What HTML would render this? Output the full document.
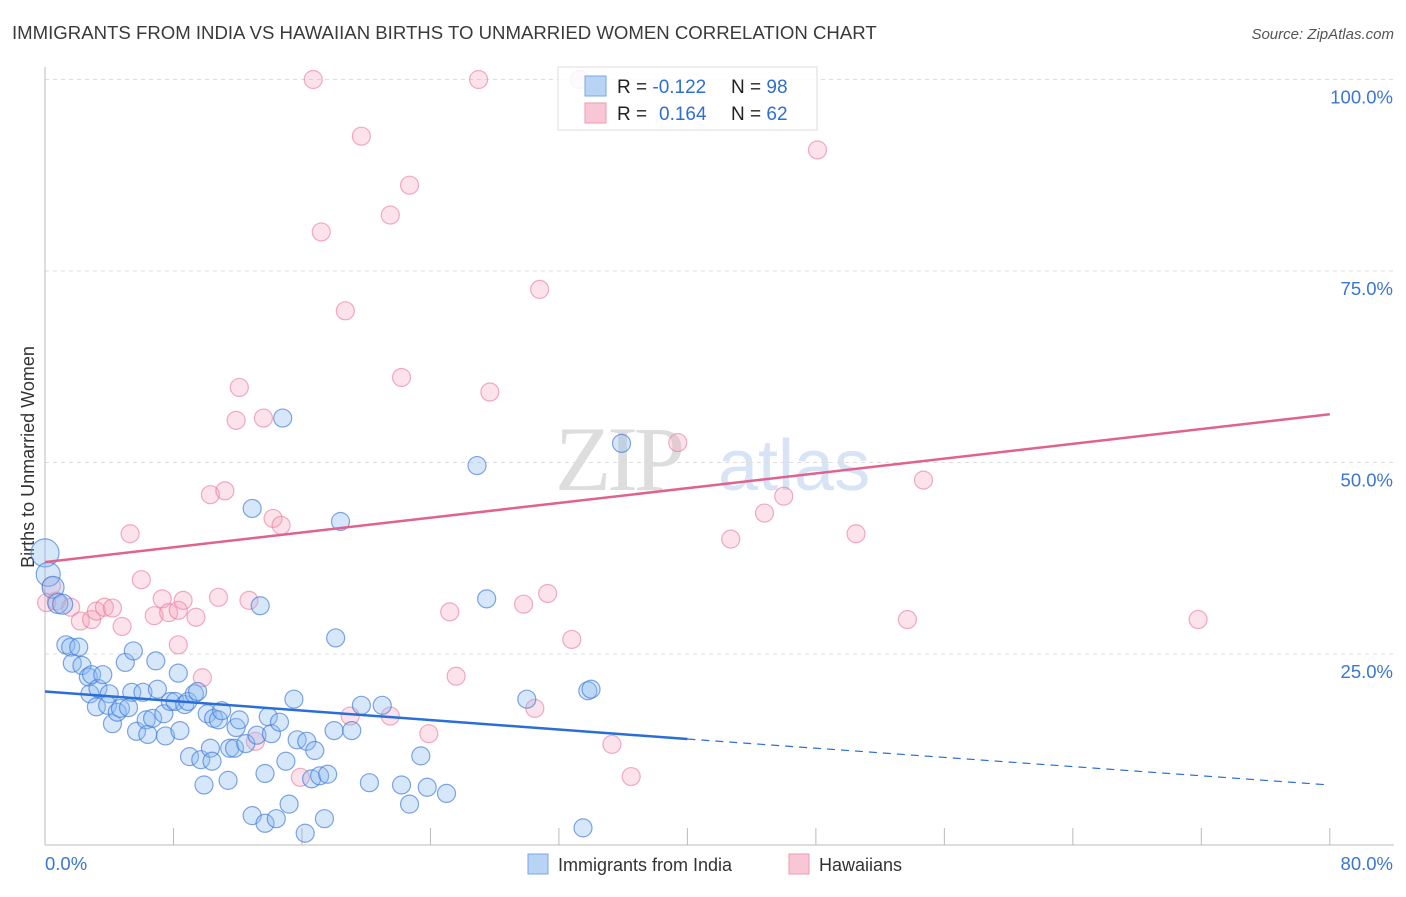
<!DOCTYPE html>
<html><head><meta charset="utf-8">
<style>
body{margin:0;background:#fff;font-family:"Liberation Sans",sans-serif;}
#wrap{position:relative;width:1406px;height:892px;}
</style></head>
<body>
<div id="wrap">
<svg id="svg" width="1406" height="892" xmlns="http://www.w3.org/2000/svg">
<text x="12" y="39" font-size="18.6" fill="#3a3a3a">IMMIGRANTS FROM INDIA VS HAWAIIAN BIRTHS TO UNMARRIED WOMEN CORRELATION CHART</text>
<text x="1394" y="39" font-size="15" fill="#555" text-anchor="end" font-style="italic">Source: ZipAtlas.com</text>
<text x="34" y="457" font-size="18" fill="#333" text-anchor="middle" transform="rotate(-90 34 457)">Births to Unmarried Women</text>
<g><text x="555" y="490" font-size="92" fill="#ddd" font-family="Liberation Serif,serif" letter-spacing="-4">ZIP</text><text x="718" y="490" font-size="72" fill="#d6e4f5">atlas</text></g>
<g id="grid"></g><g id="axes"></g><g id="pts"></g><g id="lines"></g>
<g>
<rect x="558" y="67" width="259" height="63" fill="#fff" fill-opacity="0.85" stroke="#ddd"/>
<rect x="585" y="76" width="21" height="20" fill="#b9d3f5" stroke="#7aa6e6"/>
<rect x="585" y="103" width="21" height="20" fill="#f9c6d5" stroke="#ee9ab3"/>
<text x="617" y="93" font-size="19" fill="#222">R = <tspan fill="#2f6fd0">-0.122</tspan><tspan x="731">N = </tspan><tspan fill="#2f6fd0">98</tspan></text>
<text x="617" y="120" font-size="19" fill="#222">R = <tspan x="659" fill="#2f6fd0">0.164</tspan><tspan x="731">N = </tspan><tspan fill="#2f6fd0">62</tspan></text>
</g>
<g>
<rect x="528" y="854" width="20" height="20" fill="#b9d3f5" stroke="#7aa6e6"/>
<text x="558" y="871" font-size="18" fill="#333">Immigrants from India</text>
<rect x="789" y="854" width="20" height="20" fill="#f9c6d5" stroke="#ee9ab3"/>
<text x="819" y="871" font-size="18" fill="#333">Hawaiians</text>
</g>
</svg>
</div>
<script>
const xTicks=[0,80];
const yTicks=[25,50,75,100];
const blueX=[0,0.2,0.5,0.8,1.1,1.3,1.6,2.1,1.7,2.3,2.7,2.9,2.8,3.3,3.2,3.6,4.0,4.2,3.9,4.5,4.7,5.0,5.2,5.5,5.4,5.7,6.1,6.3,6.4,6.7,6.9,7.0,7.4,7.5,7.8,8.1,8.3,8.4,8.7,8.9,9.0,9.3,9.5,9.7,9.9,10.1,10.3,10.4,10.5,10.8,11.0,11.4,11.5,11.8,11.9,12.1,12.5,12.9,12.9,13.2,13.4,13.7,13.7,13.9,14.1,14.4,14.6,15.0,15.2,15.5,15.7,16.2,16.3,16.6,16.8,17.1,17.4,17.6,18.0,18.1,18.4,19.1,19.7,20.2,21.0,22.2,22.7,23.4,23.8,25.0,26.9,27.5,30.0,33.5,33.8,34.0,35.9,14.8];
const blueY=[38.2,35.4,33.7,31.6,31.5,26.2,25.9,25.9,23.8,23.5,22.0,22.3,19.8,20.5,18.1,22.3,19.8,15.9,18.3,17.4,17.9,23.9,18.0,25.4,20.0,14.9,20.0,16.4,14.5,16.6,24.1,20.4,17.2,14.3,18.8,18.8,22.5,15.0,18.4,18.8,11.6,19.8,20.1,11.2,7.9,17.2,12.7,11.0,16.6,16.4,17.6,8.5,12.7,12.7,15.4,16.4,13.3,44.0,3.9,14.4,31.3,9.4,2.9,16.8,14.6,3.5,16.1,11.0,5.4,19.1,13.8,1.6,13.6,8.7,12.4,9.1,3.5,9.3,15.0,27.1,42.3,15.0,18.3,8.2,18.3,7.9,5.4,11.7,7.6,6.8,49.6,32.2,19.1,2.3,20.2,20.4,52.5,55.8];
const blueR=[14,12,11,10,10,9,9,9,9,9,9,9,9,9,9,9,9,9,9,9,9,9,9,9,9,9,9,9,9,9,9,9,9,9,9,9,9,9,9,9,9,9,9,9,9,9,9,9,9,9,9,9,9,9,9,9,9,9,9,9,9,9,9,9,9,9,9,9,9,9,9,9,9,9,9,9,9,9,9,9,9,9,9,9,9,9,9,9,9,9,9,9,9,9,9,9,9,9];
const pinkX=[16.7,27.0,33.3,19.7,48.1,22.7,21.5,17.2,30.8,18.7,12.1,22.2,27.7,11.9,13.6,39.4,10.3,11.2,54.7,46.0,14.2,14.7,44.8,42.7,50.5,5.3,6.0,0.4,0.1,0.7,1.6,2.2,2.9,3.2,3.7,4.2,4.8,6.8,7.3,7.7,8.3,8.6,9.4,10.8,12.7,8.3,9.8,25.2,29.8,31.3,32.8,25.6,30.5,19.0,21.5,23.9,13.1,15.9,35.3,36.5,53.7,71.8];
const pinkY=[100,100,100,92.6,90.8,86.2,82.3,80.1,72.6,69.8,59.8,61.1,59.2,55.5,55.8,52.6,45.8,46.3,47.7,45.6,42.7,41.8,43.4,40.0,40.7,40.7,34.7,33.9,31.7,31.9,31.1,29.3,29.5,30.6,31.1,31.0,28.6,30.0,32.2,30.4,30.7,32.0,29.8,32.4,32.0,26.2,21.9,30.5,31.5,32.9,26.9,22.1,17.9,16.9,16.9,14.6,13.6,8.9,13.2,9.0,29.5,29.5];
const blueTrend=[20.1,13.9,7.9];
const pinkTrend=[37.0,56.3];
const X=v=>45+v*16.06, Y=v=>845.5-v*7.66;
const NS="http://www.w3.org/2000/svg";
function mk(t,a,p){const e=document.createElementNS(NS,t);for(const k in a)e.setAttribute(k,a[k]);p.appendChild(e);return e;}
const grid=document.getElementById('grid'),axes=document.getElementById('axes');
yTicks.forEach(t=>{
 const l=mk('line',{x1:45,x2:1394,y1:Y(t),y2:Y(t),stroke:'#ddd','stroke-dasharray':'4,4'},grid);
 
 
 const tx=mk('text',{x:1393,y:Y(t)+24,'font-size':18.5,fill:'#3a76d4','text-anchor':'end'},axes);
 tx.textContent=t.toFixed(1)+'%';
 
 
});
mk('line',{x1:45,x2:45,y1:67,y2:845,stroke:'#bbb'},axes);
mk('line',{x1:45,x2:1394,y1:845,y2:845,stroke:'#bbb'},axes);
for(let i=1;i<=10;i++){mk('line',{x1:X(i*8),x2:X(i*8),y1:828,y2:845,stroke:'#bbb'},axes);}
xTicks.forEach((t,i)=>{
 const tx=mk('text',{x:i?1393:45,y:870,'font-size':18.5,fill:'#3a76d4','text-anchor':i?'end':'start'},axes);
 tx.textContent=t.toFixed(1)+'%';
 
 
});
const pts=document.getElementById('pts');
pinkX.forEach((x,i)=>{
 const c=mk('circle',{cx:X(x),cy:Y(pinkY[i]),r:9,fill:'rgba(245,160,185,0.3)',stroke:'rgba(232,120,155,0.6)','stroke-width':1.2},pts);
 
 
});
blueX.forEach((x,i)=>{
 const c=mk('circle',{cx:X(x),cy:Y(blueY[i]),r:blueR[i]||9,fill:'rgba(140,185,240,0.35)',stroke:'rgba(60,120,215,0.65)','stroke-width':1.2},pts);
 
 
});
const lines=document.getElementById('lines');
let l1=mk('line',{x1:X(0),y1:Y(blueTrend[0]),x2:X(40),y2:Y(blueTrend[1]),stroke:'#2a6fd6','stroke-width':2.5},lines);


let l2=mk('line',{x1:X(40),y1:Y(blueTrend[1]),x2:X(80),y2:Y(blueTrend[2]),stroke:'#2a6fd6','stroke-width':1.2,'stroke-dasharray':'8,6'},lines);


let l3=mk('line',{x1:X(0),y1:Y(pinkTrend[0]),x2:X(80),y2:Y(pinkTrend[1]),stroke:'#e0638e','stroke-width':2.5},lines);


</script>
</body></html>
